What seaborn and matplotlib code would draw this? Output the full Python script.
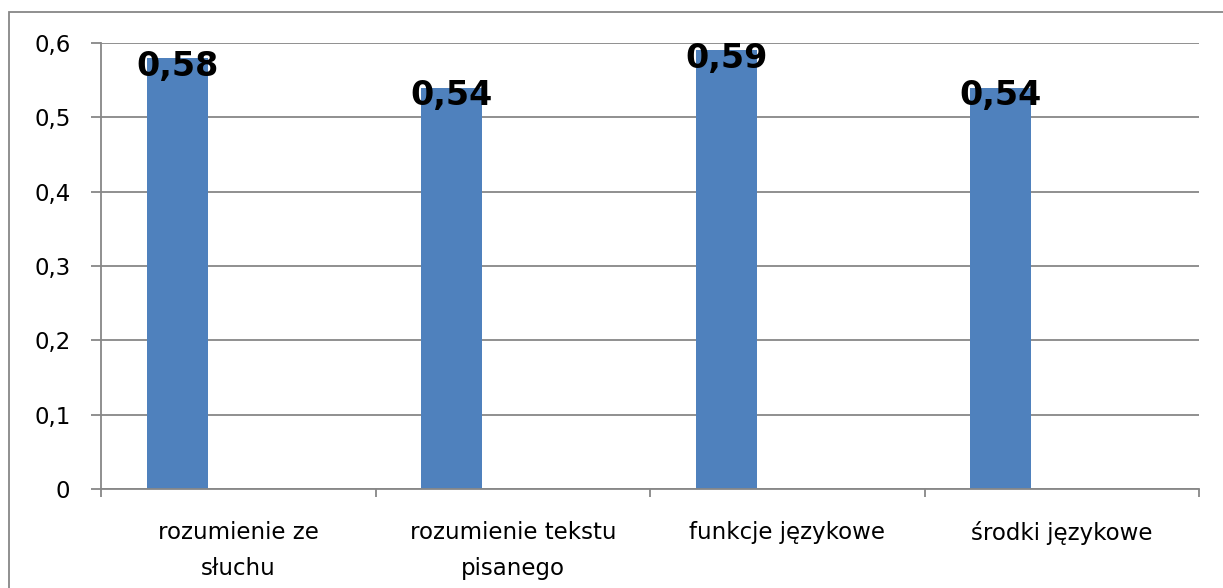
import matplotlib
matplotlib.use("Agg")
import matplotlib.pyplot as plt
import seaborn as sns
import numpy as np
from matplotlib.patches import Rectangle

# data
categories = ["rozumienie ze\nsłuchu", "rozumienie tekstu\npisanego",
              "funkcje językowe", "środki językowe"]
values = [0.58, 0.54, 0.59, 0.54]
y_ticks = [0, 0.1, 0.2, 0.3, 0.4, 0.5, 0.6]
y_labels = ["0", "0,1", "0,2", "0,3", "0,4", "0,5", "0,6"]

grey = "#878787"
blue = "#4F81BD"

sns.set_style("white")
plt.rcParams['font.family'] = ['DejaVu Sans']

fig = plt.figure(figsize=(12.23, 5.88), dpi=100)
ax = fig.add_axes([101/1223, 1 - 489/588, (1199-101)/1223, (489-43)/588])

bw = 0.222
sns.barplot(x=categories, y=values, color=blue, width=bw, saturation=1,
            edgecolor="none", ax=ax)
# excel style: bar sits left of the category centre
for p in ax.patches:
    p.set_x(p.get_x() - bw)

ax.set_xlim(-0.5, len(categories) - 0.5)
ax.set_ylim(0, 0.6)

# value labels
for i, v in enumerate(values):
    ax.annotate(f"{v:.2f}".replace(".", ","), (i - bw, v), xytext=(0, -6),
                textcoords="offset points", ha="center", va="center",
                fontsize=24, fontweight="bold", color="black", zorder=5)

# y axis
ax.set_yticks(y_ticks)
ax.set_yticklabels(y_labels, fontsize=16.5, color="black")
ax.yaxis.grid(True, color=grey, lw=1.3)
ax.set_axisbelow(True)
ax.tick_params(axis="y", direction="out", length=7, width=1.3, color=grey,
               pad=15, left=True)

# x axis: labels at centres, ticks at boundaries
ax.set_xticks(np.arange(len(categories)))
ax.set_xticklabels(categories, fontsize=16.5, linespacing=1.75, color="black",
                   va="top")
ax.tick_params(axis="x", which="major", length=0, pad=23)
ax.set_xticks(np.arange(len(categories) + 1) - 0.5, minor=True)
ax.tick_params(axis="x", which="minor", direction="out", length=6, width=1.3,
               color=grey, bottom=True)

ax.set_xlabel("")
ax.set_ylabel("")
for side in ["top", "right"]:
    ax.spines[side].set_visible(False)
for side in ["left", "bottom"]:
    ax.spines[side].set_color(grey)
    ax.spines[side].set_linewidth(1.3)

# chart area border (runs off the image on right and bottom)
fig.patches.append(Rectangle((9/1223, -0.05), 1.1, (588-12)/588 + 0.05,
                             transform=fig.transFigure, fill=False,
                             edgecolor=grey, lw=1.3, clip_on=False))

fig.savefig("out.png", dpi=100)
